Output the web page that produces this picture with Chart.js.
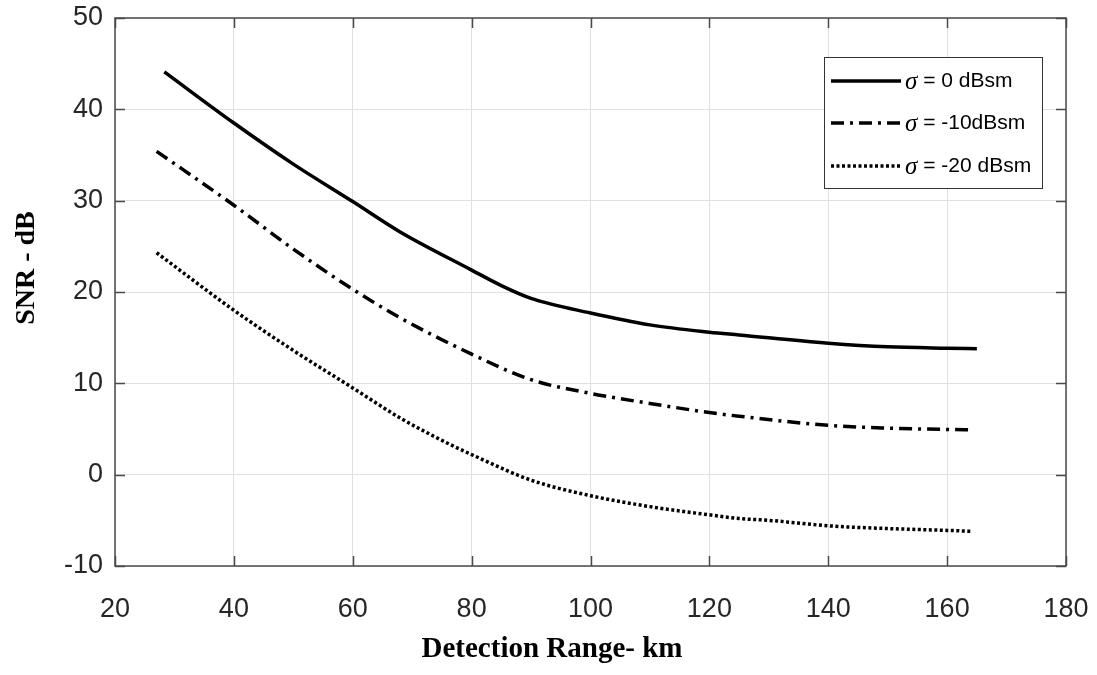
<!DOCTYPE html>
<html>
<head>
<meta charset="utf-8">
<script src="https://cdn.jsdelivr.net/npm/chart.js@4/dist/chart.umd.min.js"></script>
<style>
  html, body { margin: 0; padding: 0; background: #ffffff; }
  #wrap { width: 1097px; height: 675px; }
</style>
</head>
<body>
<div id="wrap"><canvas id="c" width="1097" height="675"></canvas></div>
<script>
// ---- Data ----
const xSolid   = [28.3, 40, 50, 60, 67.9, 80, 85, 90, 100, 110, 120, 125, 140, 150, 160, 165];
const ySolid   = [44.1, 38.5, 34.0, 29.9, 26.6, 22.4, 20.7, 19.3, 17.7, 16.4, 15.6, 15.3, 14.4, 14.0, 13.85, 13.8];

const xDashDot = [27, 40, 50, 60, 67.9, 80, 90, 100, 110, 120, 125, 140, 150, 160, 164];
const yDashDot = [35.4, 29.5, 24.7, 20.3, 17.2, 13.2, 10.4, 8.9, 7.8, 6.8, 6.4, 5.4, 5.1, 4.95, 4.9];

const xDotted  = [27, 40, 50, 60, 68, 76.4, 80, 90, 100, 110, 120, 125, 130, 140, 150, 160, 164];
const yDotted  = [24.3, 18.0, 13.6, 9.5, 6.2, 3.3, 2.2, -0.6, -2.3, -3.5, -4.4, -4.8, -5.0, -5.6, -5.9, -6.1, -6.2];

const seriesLabels = ['σ = 0 dBsm', 'σ = -10dBsm', 'σ = -20 dBsm'];
const xTitle = 'Detection Range- km';
const yTitle = 'SNR - dB';
const xMin = 20, xMax = 180, xStep = 20;
const yMin = -10, yMax = 50, yStep = 10;

const toPts = (xs, ys) => xs.map((x, i) => ({ x: x, y: ys[i] }));

const tickFont = "'Liberation Sans', Arial, sans-serif";
const titleFont = "'Liberation Serif', 'Times New Roman', serif";
const axisColor = '#4a4a4a';

// inward ticks + box frame (MATLAB-like)
const framePlugin = {
  id: 'frame',
  afterDatasetsDraw(chart) {
    const { ctx, chartArea: a, scales } = chart;
    ctx.save();
    ctx.strokeStyle = axisColor;
    ctx.lineWidth = 1.5;
    const tl = 10;
    scales.x.ticks.forEach(t => {
      const px = Math.round(scales.x.getPixelForValue(t.value)) + 0.5;
      ctx.beginPath();
      ctx.moveTo(px, a.bottom); ctx.lineTo(px, a.bottom - tl);
      ctx.moveTo(px, a.top); ctx.lineTo(px, a.top + tl);
      ctx.stroke();
    });
    scales.y.ticks.forEach(t => {
      const py = Math.round(scales.y.getPixelForValue(t.value)) + 0.5;
      ctx.beginPath();
      ctx.moveTo(a.left, py); ctx.lineTo(a.left + tl, py);
      ctx.moveTo(a.right, py); ctx.lineTo(a.right - tl, py);
      ctx.stroke();
    });
    ctx.strokeRect(a.left, a.top, a.right - a.left, a.bottom - a.top);
    ctx.restore();
  }
};

// axis titles (placed as in the reference, which is off-centre)
const titlesPlugin = {
  id: 'axisTitles',
  afterDraw(chart) {
    const { ctx } = chart;
    ctx.save();
    ctx.fillStyle = '#000000';
    ctx.textAlign = 'center';
    ctx.textBaseline = 'middle';
    ctx.font = "bold 29px " + titleFont;
    ctx.fillText(xTitle, 552, 650);
    ctx.translate(27, 268);
    ctx.rotate(-Math.PI / 2);
    ctx.font = "bold 28px " + titleFont;
    ctx.fillText(yTitle, 0, 0);
    ctx.restore();
  }
};

// custom legend with italic sigma
const legendPlugin = {
  id: 'customLegend',
  afterDraw(chart) {
    const { ctx } = chart;
    const bx = 824, by = 57, bw = 218, bh = 131;
    ctx.save();
    ctx.fillStyle = '#ffffff';
    ctx.fillRect(bx, by, bw, bh);
    ctx.strokeStyle = '#333333';
    ctx.lineWidth = 1;
    ctx.strokeRect(bx + 0.5, by + 0.5, bw, bh);
    const rows = [81, 123, 166];
    chart.data.datasets.forEach((ds, i) => {
      const y = rows[i];
      ctx.beginPath();
      ctx.strokeStyle = ds.borderColor;
      ctx.lineWidth = ds.borderWidth;
      ctx.setLineDash(ds.borderDash || []);
      ctx.moveTo(831, y); ctx.lineTo(901, y);
      ctx.stroke();
      ctx.setLineDash([]);
      const label = ds.label;
      const sigma = label.charAt(0);
      const rest = label.slice(1);
      ctx.fillStyle = '#000000';
      ctx.textBaseline = 'middle';
      ctx.textAlign = 'left';
      ctx.font = "italic 25px " + titleFont;
      ctx.fillText(sigma, 905, y + 1);
      const sw = ctx.measureText(sigma).width;
      ctx.font = "21px " + tickFont;
      ctx.fillText(rest, 905 + sw, y);
    });
    ctx.restore();
  }
};

const common = { fill: false, pointRadius: 0, borderColor: '#000000', borderWidth: 3.5,
                 cubicInterpolationMode: 'monotone', borderCapStyle: 'butt' };

new Chart(document.getElementById('c'), {
  type: 'line',
  data: {
    datasets: [
      Object.assign({ label: seriesLabels[0], data: toPts(xSolid, ySolid), borderDash: [] }, common),
      Object.assign({ label: seriesLabels[1], data: toPts(xDashDot, yDashDot), borderDash: [13, 6, 3, 6] }, common),
      Object.assign({ label: seriesLabels[2], data: toPts(xDotted, yDotted), borderDash: [3, 2.5] }, common)
    ]
  },
  options: {
    responsive: false,
    animation: false,
    layout: { padding: { top: 18, right: 31, left: 0, bottom: 0 } },
    plugins: { legend: { display: false }, tooltip: { enabled: false } },
    scales: {
      x: {
        type: 'linear', min: xMin, max: xMax,
        afterFit(s) { s.height = 109; s.paddingLeft = 0; s.paddingRight = 0; },
        ticks: { stepSize: xStep, color: '#262626', padding: 27,
                 font: { family: tickFont, size: 27 } },
        grid: { color: '#e0e0e0', lineWidth: 1, drawTicks: false },
        border: { display: false },
        title: { display: false, text: xTitle }
      },
      y: {
        type: 'linear', min: yMin, max: yMax,
        afterFit(s) { s.width = 115; s.paddingTop = 0; s.paddingBottom = 0; },
        ticks: { stepSize: yStep, color: '#262626', padding: 12,
                 font: { family: tickFont, size: 27 } },
        grid: { color: '#e0e0e0', lineWidth: 1, drawTicks: false },
        border: { display: false },
        title: { display: false, text: yTitle }
      }
    }
  },
  plugins: [framePlugin, legendPlugin, titlesPlugin]
});
</script>
</body>
</html>
